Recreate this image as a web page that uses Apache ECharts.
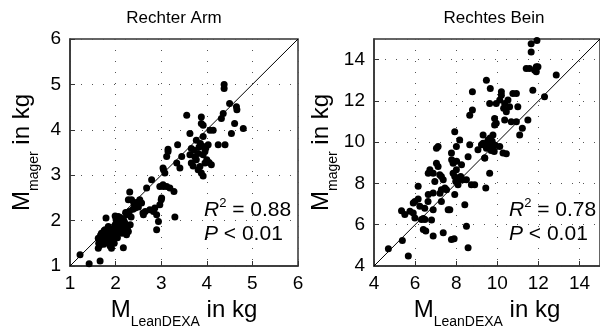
<!DOCTYPE html>
<html>
<head>
<meta charset="utf-8">
<script src="https://cdn.jsdelivr.net/npm/echarts@6/dist/echarts.min.js"></script>
<style>
  html, body { margin: 0; padding: 0; background: #fff; }
  #chart { width: 600px; height: 335px; }
</style>
</head>
<body>
<div id="chart"></div>
<script>
// Rechter Arm: [M LeanDEXA, M mager] in kg
var armPoints = [
  [1.22,1.25],[1.42,1.05],[1.66,1.11],
  [1.62,1.39],[1.63,1.50],[1.62,1.61],[1.65,1.45],[1.67,1.68],[1.69,1.72],[1.70,1.55],
  [1.72,1.62],[1.74,1.48],[1.75,1.78],[1.77,1.80],[1.78,1.58],[1.79,2.06],[1.80,1.65],
  [1.82,1.70],[1.84,1.87],[1.85,1.52],[1.86,1.62],[1.88,1.54],[1.88,1.44],[1.90,1.75],
  [1.91,1.39],[1.92,1.82],[1.94,1.66],[1.95,1.58],[1.95,1.76],[1.97,1.50],[1.99,1.91],
  [1.99,2.10],[2.00,1.70],[2.01,2.02],[2.03,1.85],[2.04,1.62],[2.06,2.09],[2.07,1.95],
  [2.08,1.78],[2.10,1.80],[2.11,1.88],[2.12,2.05],[2.13,1.98],[2.14,1.72],[2.15,1.90],
  [2.17,1.87],[2.17,1.40],[2.18,2.00],[2.20,1.95],[2.21,1.80],[2.22,2.18],[2.24,1.69],
  [2.24,2.13],[2.26,1.85],[2.28,1.76],[2.28,2.46],[2.30,2.20],[2.31,2.63],[2.32,1.91],
  [2.34,2.08],[2.35,2.46],[2.38,2.25],[2.40,2.38],[2.43,2.28],[2.45,2.40],[2.46,2.35],
  [2.50,2.30],[2.53,2.46],[2.57,2.39],[2.60,2.17],[2.61,2.13],[2.65,2.20],[2.68,2.72],
  [2.75,2.24],[2.79,2.90],[2.83,2.20],[2.86,2.28],[2.90,1.80],[2.90,2.13],[2.94,1.98],
  [2.97,2.35],[3.01,2.50],[3.00,2.46],[2.97,2.75],[3.04,2.79],[3.05,2.75],[3.12,2.75],
  [3.19,2.72],[3.28,2.64],[3.30,2.08],[3.05,3.12],[3.08,3.05],[3.04,3.16],[3.12,3.41],
  [3.15,3.52],[3.15,3.57],[3.34,3.27],[3.36,3.67],[3.41,3.16],[3.45,3.41],
  [3.56,4.32],[3.63,3.92],[3.66,3.59],[3.63,3.45],[3.66,3.27],[3.70,3.20],[3.72,3.55],
  [3.74,3.40],[3.77,3.77],[3.81,3.48],[3.77,3.34],[3.81,3.12],[3.85,3.19],[3.83,3.62],
  [3.86,3.70],[3.88,4.28],[3.88,4.14],[3.92,4.10],[3.92,3.85],[3.92,3.63],[3.92,3.45],
  [3.96,3.52],[3.92,2.98],[3.88,3.05],[3.96,3.27],[4.00,3.34],[3.98,3.60],[4.03,3.67],
  [4.07,3.99],[4.10,3.23],[4.14,3.99],[4.05,3.28],[4.25,3.67],[4.32,4.25],[4.36,4.36],
  [4.38,5.00],[4.38,4.91],[4.40,3.67],[4.50,4.58],[4.54,3.92],[4.61,4.14],[4.65,4.51],
  [4.66,4.44],[4.80,4.03]
];

// Rechtes Bein: [M LeanDEXA, M mager] in kg
var beinPoints = [
  [4.70,4.84],[5.38,5.24],[5.67,4.48],[5.34,6.68],[5.50,6.49],[5.75,6.65],[5.91,6.57],
  [5.99,6.33],[5.91,7.05],[6.15,7.25],[6.15,7.86],[6.23,6.89],[6.31,6.25],[6.40,6.30],
  [6.48,6.25],[6.40,5.77],[6.52,5.69],[6.64,7.46],[6.64,8.50],[6.72,8.66],[6.88,8.50],
  [6.88,7.54],[6.88,6.73],[6.88,5.45],[6.96,8.10],[7.04,8.98],[7.12,8.82],[7.04,9.70],
  [7.12,9.79],[7.20,8.42],[7.28,8.34],[7.28,7.70],[7.28,7.13],[7.37,5.61],[7.45,7.78],
  [7.53,7.70],[7.61,6.73],[7.69,6.73],[7.77,5.29],[7.90,5.32],[7.77,9.47],[7.85,8.98],
  [7.85,8.50],[7.93,8.34],[7.93,7.46],[7.98,8.10],[8.01,8.66],[8.01,9.79],[7.93,10.51],
  [8.09,7.94],[8.14,8.18],[8.17,10.11],[8.22,8.34],[8.34,8.18],[8.42,6.97],[8.50,5.93],
  [8.58,4.88],[8.50,8.18],[8.58,9.30],[8.66,9.87],[8.66,11.31],[8.79,11.56],[8.79,12.44],
  [8.74,7.94],[8.90,7.94],[9.06,9.63],[9.23,9.87],[9.31,10.35],[9.31,9.95],[9.39,9.23],
  [9.44,7.78],[9.47,13.00],[9.47,9.71],[9.55,10.11],[9.63,8.50],[9.66,12.60],[9.63,11.88],
  [9.71,9.79],[9.79,10.35],[9.87,10.83],[9.87,11.15],[9.95,10.92],[9.95,11.88],[10.12,9.79],
  [10.12,12.04],[10.20,12.28],[10.20,12.44],[10.28,9.47],[10.31,11.64],[10.36,11.88],
  [10.36,11.07],[10.44,11.48],[10.52,12.04],[10.60,11.72],[10.68,10.99],[10.76,12.36],
  [10.93,12.36],[11.00,11.72],[10.93,10.99],[11.09,10.35],[11.22,10.67],[11.49,11.07],
  [11.41,13.57],[11.57,13.57],[11.65,14.77],[11.65,14.37],[11.73,12.52],[11.82,13.49],
  [11.90,13.65],[11.98,13.65],[11.90,13.41],[11.93,14.93],[12.30,12.20],[12.87,13.25],
  [5.99,7.12],[6.47,6.80],[6.63,7.12],[6.80,6.23],[7.21,7.53],[7.37,8.18],[7.78,9.15],
  [8.26,8.91],[8.02,9.07],[8.10,8.10],[9.39,9.23],[9.60,9.90],[9.70,9.60],[9.80,9.70],
  [9.90,9.85],[9.75,10.05],[9.85,9.55],[9.50,9.95],[9.65,10.20],[10.44,9.44]
];

var armRange = [1, 6];
var beinRange = [4, 15];
var panelTitles = ['Rechter Arm', 'Rechtes Bein'];
var rSquared = ['0.88', '0.78'];
var pValue = ['0.01', '0.01'];

var FONT = 'Liberation Sans, Arial, sans-serif';
var boxColor = '#333';

// M with a subscript, as MATLAB's tex interpreter draws it
var nameRich = {
  m: { fontSize: 24, fontFamily: FONT, color: '#000', verticalAlign: 'top' },
  s: { fontSize: 14, fontFamily: FONT, color: '#000', verticalAlign: 'bottom', padding: [17, 0, 0, 0] }
};

function xAxisFor(idx, range, interval) {
  return {
    gridIndex: idx,
    type: 'value',
    min: range[0],
    max: range[1],
    interval: interval,
    axisLine: { show: true, onZero: false, lineStyle: { color: boxColor, width: 1.5 } },
    axisTick: { inside: true, length: 5, lineStyle: { color: boxColor } },
    axisLabel: { fontSize: 19, color: '#000', fontFamily: FONT, margin: 8, showMaxLabel: idx === 0 },
    splitLine: { show: true, lineStyle: { color: '#555', width: 1, type: [1, 10] } },
    name: '{m|M}{s|LeanDEXA}{m| in kg}',
    nameLocation: 'middle',
    nameGap: 16,
    nameTextStyle: { color: '#000', fontFamily: FONT, rich: nameRich }
  };
}

function yAxisFor(idx, range, interval, gap) {
  return {
    gridIndex: idx,
    type: 'value',
    min: range[0],
    max: range[1],
    interval: interval,
    axisLine: { show: true, onZero: false, lineStyle: { color: boxColor, width: 1.5 } },
    axisTick: { inside: true, length: 5, lineStyle: { color: boxColor } },
    axisLabel: { fontSize: 19, color: '#000', fontFamily: FONT, margin: 9, showMaxLabel: idx === 0 },
    splitLine: { show: true, lineStyle: { color: '#555', width: 1, type: [1, 10] } },
    name: '{m|M}{s|mager}{m| in kg}',
    nameLocation: 'middle',
    nameRotate: 90,
    nameGap: gap,
    nameTextStyle: { color: '#000', fontFamily: FONT, rich: nameRich }
  };
}

function statText(left, r2, p) {
  return {
    type: 'text',
    left: left,
    top: 197,
    z: 10,
    style: {
      text: '{i|R}{sup|2}{n| = ' + r2 + '}\n{i|P}{n| < ' + p + '}',
      rich: {
        i: { fontSize: 21, fontStyle: 'italic', fontFamily: FONT, fill: '#000', lineHeight: 24, verticalAlign: 'bottom' },
        sup: { fontSize: 13, fontFamily: FONT, fill: '#000', verticalAlign: 'top', lineHeight: 24 },
        n: { fontSize: 21, fontFamily: FONT, fill: '#000', lineHeight: 24, verticalAlign: 'bottom' }
      }
    }
  };
}

var chart = echarts.init(document.getElementById('chart'), null, { renderer: 'canvas' });

chart.setOption({
  animation: false,
  backgroundColor: '#fff',
  title: [
    { text: panelTitles[0], left: 169, top: 5, textAlign: 'center',
      textStyle: { fontSize: 17, fontWeight: 'normal', color: '#000', fontFamily: FONT } },
    { text: panelTitles[1], left: 489, top: 5, textAlign: 'center',
      textStyle: { fontSize: 17, fontWeight: 'normal', color: '#000', fontFamily: FONT } }
  ],
  grid: [
    { left: 70, top: 39, width: 228, height: 227, show: true, borderColor: boxColor, borderWidth: 1.5, backgroundColor: 'transparent' },
    { left: 374, top: 39, width: 226, height: 227, show: true, borderColor: boxColor, borderWidth: 1.5, backgroundColor: 'transparent' }
  ],
  xAxis: [xAxisFor(0, armRange, 1), xAxisFor(1, beinRange, 2)],
  yAxis: [yAxisFor(0, armRange, 1, 29), yAxisFor(1, beinRange, 2, 33)],
  graphic: [statText(204, rSquared[0], pValue[0]), statText(509, rSquared[1], pValue[1])],
  series: [
    {
      type: 'line', xAxisIndex: 0, yAxisIndex: 0,
      data: [[armRange[0], armRange[0]], [armRange[1], armRange[1]]],
      symbol: 'none', lineStyle: { color: '#000', width: 1 }, z: 3
    },
    {
      type: 'scatter', xAxisIndex: 0, yAxisIndex: 0,
      data: armPoints, symbolSize: 7, itemStyle: { color: '#000', opacity: 1 }, z: 4
    },
    {
      type: 'line', xAxisIndex: 1, yAxisIndex: 1,
      data: [[beinRange[0], beinRange[0]], [beinRange[1], beinRange[1]]],
      symbol: 'none', lineStyle: { color: '#000', width: 1 }, z: 3
    },
    {
      type: 'scatter', xAxisIndex: 1, yAxisIndex: 1,
      data: beinPoints, symbolSize: 7, itemStyle: { color: '#000', opacity: 1 }, z: 4
    }
  ]
});
</script>
</body>
</html>
